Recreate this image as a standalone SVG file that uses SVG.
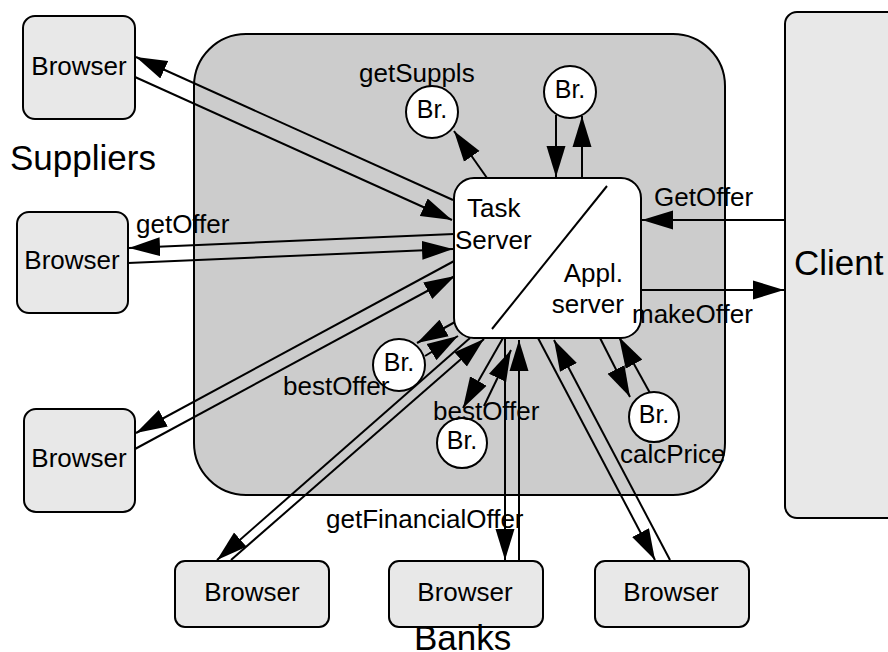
<svg xmlns="http://www.w3.org/2000/svg" width="888" height="652" viewBox="0 0 888 652">
<style>
.box{fill:#e8e8e8;stroke:#000;stroke-width:2}
.cont{fill:#cccccc;stroke:#000;stroke-width:2}
.srv{fill:#fff;stroke:#000;stroke-width:2}
.br{fill:#fff;stroke:#000;stroke-width:2}
.ln{fill:none;stroke:#000;stroke-width:2}
.a{marker-end:url(#arr)}
text{font-family:"Liberation Sans",Arial,sans-serif;fill:#000}
.t{font-size:26px}
.c{text-anchor:middle}
.e{text-anchor:end}
.big{font-size:35px}
.bt{font-size:25px;text-anchor:middle}
</style>
<defs>
<marker id="arr" markerUnits="userSpaceOnUse" markerWidth="32" markerHeight="20" refX="31" refY="9.5" orient="auto" viewBox="0 0 32 19">
<path d="M0,0 L31,9.5 L0,19 z" fill="#000"/>
</marker>
</defs>
<g id="container"><rect class="cont" x="194" y="34" width="531" height="461" rx="52" ry="52"/></g>
<g id="client"><rect class="box" x="785" y="12" width="130" height="506" rx="12" ry="12"/><text class="big" x="794" y="275">Client</text></g>
<g id="connectors">
<line class="ln a" x1="453" y1="200" x2="136" y2="57"/>
<line class="ln a" x1="135" y1="77" x2="452" y2="220"/>
<line class="ln a" x1="454" y1="234" x2="129" y2="248"/>
<line class="ln a" x1="128" y1="263" x2="453" y2="249"/>
<line class="ln a" x1="456" y1="260" x2="136" y2="433"/>
<line class="ln a" x1="135" y1="449" x2="455" y2="276"/>
<line class="ln a" x1="487" y1="178" x2="454" y2="131"/>
<line class="ln a" x1="556" y1="115" x2="556" y2="177"/>
<line class="ln a" x1="582" y1="178" x2="582" y2="116"/>
<line class="ln a" x1="785" y1="220" x2="642" y2="220"/>
<line class="ln a" x1="641" y1="290" x2="784" y2="290"/>
<line class="ln a" x1="455" y1="322" x2="417" y2="343"/>
<line class="ln a" x1="425" y1="356" x2="458" y2="336"/>
<line class="ln a" x1="470" y1="338" x2="217" y2="560"/>
<line class="ln a" x1="231" y1="560" x2="484" y2="339"/>
<line class="ln a" x1="503" y1="338" x2="463" y2="408"/>
<line class="ln a" x1="484" y1="406" x2="511" y2="350"/>
<line class="ln a" x1="505" y1="338" x2="505" y2="560"/>
<line class="ln a" x1="519" y1="560" x2="519" y2="340"/>
<line class="ln a" x1="538" y1="338" x2="655" y2="560"/>
<line class="ln a" x1="670" y1="560" x2="554" y2="340"/>
<line class="ln a" x1="600" y1="338" x2="630" y2="397"/>
<line class="ln a" x1="650" y1="393" x2="619" y2="337"/>
</g>
<g id="browser1"><rect class="box" x="23" y="16" width="112" height="103" rx="12" ry="12"/><text class="t c" x="79" y="75">Browser</text></g>
<g id="browser2"><rect class="box" x="17" y="212" width="111" height="101" rx="12" ry="12"/><text class="t c" x="72" y="269">Browser</text></g>
<g id="browser3"><rect class="box" x="24" y="409" width="111" height="103" rx="12" ry="12"/><text class="t c" x="79" y="467">Browser</text></g>
<g id="browser4"><rect class="box" x="175" y="561" width="154" height="66" rx="10" ry="10"/><text class="t c" x="252" y="601">Browser</text></g>
<g id="browser5"><rect class="box" x="389" y="561" width="154" height="66" rx="10" ry="10"/><text class="t c" x="465" y="601">Browser</text></g>
<g id="browser6"><rect class="box" x="595" y="561" width="154" height="66" rx="10" ry="10"/><text class="t c" x="671" y="601">Browser</text></g>
<g id="taskserver">
<rect class="srv" x="454" y="178" width="187" height="160" rx="20" ry="20"/>
<line class="ln" x1="607" y1="186" x2="492" y2="329"/>
<text class="t" x="467" y="217">Task</text>
<text class="t" x="455" y="249">Server</text>
<text class="t e" x="623" y="282">Appl.</text>
<text class="t e" x="624" y="313">server</text>
</g>
<g id="br1"><circle class="br" cx="432" cy="112" r="26"/><text class="bt" x="432" y="118">Br.</text></g>
<g id="br2"><circle class="br" cx="570" cy="92" r="26"/><text class="bt" x="570" y="98">Br.</text></g>
<g id="br3"><circle class="br" cx="399" cy="365" r="26"/><text class="bt" x="399" y="371">Br.</text></g>
<g id="br4"><circle class="br" cx="462" cy="443" r="25"/><text class="bt" x="462" y="449">Br.</text></g>
<g id="br5"><circle class="br" cx="654" cy="417" r="25"/><text class="bt" x="654" y="423">Br.</text></g>
<g id="labels">
<text class="t" x="359" y="82">getSuppls</text>
<text class="t" x="654" y="206">GetOffer</text>
<text class="t" x="632" y="323">makeOffer</text>
<text class="t" x="136" y="233">getOffer</text>
<text class="t" x="283" y="395">bestOffer</text>
<text class="t" x="433" y="420">bestOffer</text>
<text class="t" x="326" y="528">getFinancialOffer</text>
<text class="t" x="620" y="463">calcPrice</text>
<text class="big" x="10" y="170">Suppliers</text>
<text class="big" x="414" y="650">Banks</text>
</g>
</svg>
